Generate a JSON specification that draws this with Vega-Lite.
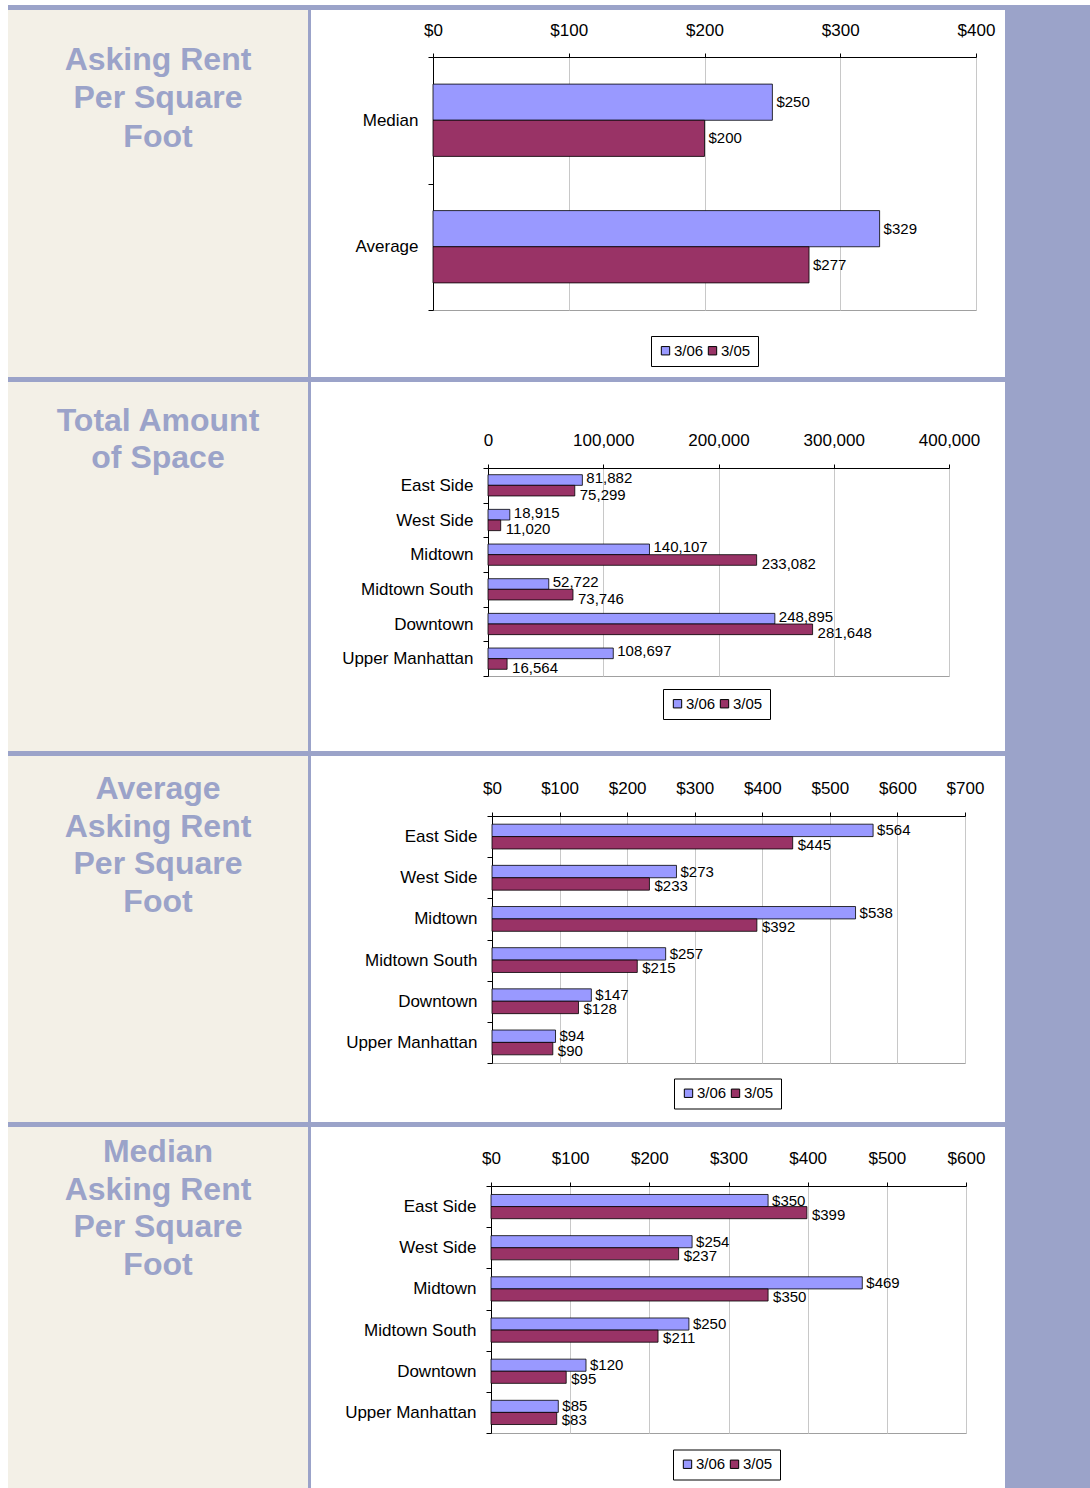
{
  "$schema": "https://vega.github.io/schema/vega-lite/v6.json",
  "background": "white",
  "padding": {"left": 8, "top": 5, "right": 0, "bottom": 0},
  "spacing": 0,
  "resolve": {"scale": {"color": "independent", "yOffset": "independent", "y": "independent"}, "legend": {"color": "independent"}},
  "config": {
    "font": "Liberation Sans",
    "axis": {"labelColor": "#000", "domainColor": "#000", "tickColor": "#000", "labelFontSize": 17, "labelFont": "Liberation Sans", "domainWidth": 1, "tickWidth": 1},
    "axisX": {"gridColor": "#c8c8c8", "labelFlush": false, "labelOverlap": false, "tickSize": 4},
    "axisY": {"grid": false, "tickSize": 5, "labelPadding": 10},
    "legend": {"labelFont": "Liberation Sans", "orient": "none", "direction": "horizontal", "title": null, "strokeColor": "#000", "fillColor": "#fff", "padding": 7, "labelFontSize": 15, "symbolType": "square", "symbolSize": 70, "symbolStrokeColor": "#000", "symbolStrokeWidth": 1, "columnPadding": 1, "labelOffset": 1},
    "text": {"font": "Liberation Sans"}
  },
  "hconcat": [
    {
      "spacing": 0,
      "resolve": {"scale": {"color": "independent", "yOffset": "independent", "y": "independent"}, "legend": {"color": "independent"}},
      "vconcat": [
        {"width": 997, "height": 5, "data": {"values": []}, "mark": "point", "view": {"fill": "#9ba3c9", "stroke": null}},
        {
          "spacing": 0,
          "resolve": {"scale": {"color": "independent", "yOffset": "independent", "y": "independent"}, "legend": {"color": "independent"}},
          "hconcat": [
            {"width": 300, "height": 367, "view": {"fill": "#f3f0e7", "stroke": null},
             "data": {"values": [{"line": 1, "label": "Asking Rent"}, {"line": 2, "label": "Per Square"}, {"line": 3, "label": "Foot"}]},
             "mark": {"type": "text", "align": "center", "baseline": "alphabetic", "fontSize": 32, "fontWeight": "bold", "color": "#9ba3c9"},
             "encoding": {"y": {"field": "line", "type": "quantitative", "scale": {"domain": [-0.567, 9.015], "reverse": true, "nice": false, "zero": false}, "axis": null},
                          "text": {"field": "label"}}},
            {"width": 3, "height": 367, "data": {"values": []}, "mark": "point", "view": {"fill": "#9ba3c9", "stroke": null}},
            {
              "spacing": 0,
              "resolve": {"scale": {"color": "independent", "yOffset": "independent", "y": "independent"}, "legend": {"color": "independent"}},
              "vconcat": [
                {"width": 1, "height": 1, "data": {"values": []}, "mark": "point", "view": {"stroke": null}},
                {
                  "width": 543, "height": 253,
                  "view": {"stroke": "#a0a0a0"},
                  "data": {"values": [
                    {"cat": "Median", "period": "3/06", "value": 250},
                    {"cat": "Median", "period": "3/05", "value": 200},
                    {"cat": "Average", "period": "3/06", "value": 329},
                    {"cat": "Average", "period": "3/05", "value": 277}
                  ]},
                  "encoding": {
                    "y": {"field": "cat", "type": "nominal", "sort": ["Median", "Average"], "title": null,
                          "scale": {"paddingInner": 0, "paddingOuter": 0},
                          "axis": {"orient": "left", "tickBand": "extent", "minExtent": 121, "maxExtent": 121}},
                    "yOffset": {"field": "period", "type": "nominal", "sort": ["3/06", "3/05"], "scale": {"paddingInner": 0, "paddingOuter": 0.75}},
                    "x": {"field": "value", "type": "quantitative", "title": null, "scale": {"domain": [0, 400], "nice": false},
                          "axis": {"orient": "top", "values": [0, 100, 200, 300, 400], "format": "$,.0f", "minExtent": 45, "maxExtent": 45, "labelPadding": 14}}
                  },
                  "layer": [
                    {"mark": {"type": "bar", "stroke": "#000", "strokeWidth": 0.8},
                     "encoding": {"color": {"field": "period", "type": "nominal", "scale": {"domain": ["3/06", "3/05"], "range": ["#9999ff", "#993366"]},
                       "legend": {"legendX": 218, "legendY": 279}}}},
                    {"mark": {"type": "text", "align": "left", "baseline": "middle", "dx": 4, "fontSize": 15, "color": "#000"},
                     "encoding": {"text": {"field": "value", "type": "quantitative", "format": "$,.0f"}}}
                  ]
                }
              ]
            }
          ]
        },
        {"width": 997, "height": 5, "data": {"values": []}, "mark": "point", "view": {"fill": "#9ba3c9", "stroke": null}},
        {
          "spacing": 0,
          "resolve": {"scale": {"color": "independent", "yOffset": "independent", "y": "independent"}, "legend": {"color": "independent"}},
          "hconcat": [
            {"width": 300, "height": 369, "view": {"fill": "#f3f0e7", "stroke": null},
             "data": {"values": [{"line": 1, "label": "Total Amount"}, {"line": 2, "label": "of Space"}]},
             "mark": {"type": "text", "align": "center", "baseline": "alphabetic", "fontSize": 32, "fontWeight": "bold", "color": "#9ba3c9"},
             "encoding": {"y": {"field": "line", "type": "quantitative", "scale": {"domain": [-0.295, 9.519], "reverse": true, "nice": false, "zero": false}, "axis": null},
                          "text": {"field": "label"}}},
            {"width": 3, "height": 369, "data": {"values": []}, "mark": "point", "view": {"fill": "#9ba3c9", "stroke": null}},
            {
              "spacing": 0,
              "resolve": {"scale": {"color": "independent", "yOffset": "independent", "y": "independent"}, "legend": {"color": "independent"}},
              "vconcat": [
                {"width": 1, "height": 1, "data": {"values": []}, "mark": "point", "view": {"stroke": null}},
                {
                  "width": 461, "height": 208,
                  "view": {"stroke": "#a0a0a0"},
                  "data": {"values": [
                    {"cat": "East Side", "period": "3/06", "value": 81882},
                    {"cat": "East Side", "period": "3/05", "value": 75299},
                    {"cat": "West Side", "period": "3/06", "value": 18915},
                    {"cat": "West Side", "period": "3/05", "value": 11020},
                    {"cat": "Midtown", "period": "3/06", "value": 140107},
                    {"cat": "Midtown", "period": "3/05", "value": 233082},
                    {"cat": "Midtown South", "period": "3/06", "value": 52722},
                    {"cat": "Midtown South", "period": "3/05", "value": 73746},
                    {"cat": "Downtown", "period": "3/06", "value": 248895},
                    {"cat": "Downtown", "period": "3/05", "value": 281648},
                    {"cat": "Upper Manhattan", "period": "3/06", "value": 108697},
                    {"cat": "Upper Manhattan", "period": "3/05", "value": 16564}
                  ]},
                  "encoding": {
                    "y": {"field": "cat", "type": "nominal", "sort": ["East Side", "West Side", "Midtown", "Midtown South", "Downtown", "Upper Manhattan"], "title": null,
                          "scale": {"paddingInner": 0, "paddingOuter": 0},
                          "axis": {"orient": "left", "tickBand": "extent", "minExtent": 176, "maxExtent": 176}},
                    "yOffset": {"field": "period", "type": "nominal", "sort": ["3/06", "3/05"], "scale": {"paddingInner": 0, "paddingOuter": 0.63}},
                    "x": {"field": "value", "type": "quantitative", "title": null, "scale": {"domain": [0, 400000], "nice": false},
                          "axis": {"orient": "top", "values": [0, 100000, 200000, 300000, 400000], "format": ",.0f", "minExtent": 84, "maxExtent": 84, "labelPadding": 15}}
                  },
                  "layer": [
                    {"mark": {"type": "bar", "stroke": "#000", "strokeWidth": 0.8},
                     "encoding": {"color": {"field": "period", "type": "nominal", "scale": {"domain": ["3/06", "3/05"], "range": ["#9999ff", "#993366"]},
                       "legend": {"legendX": 175, "legendY": 221}}}},
                    {"transform": [{"filter": "datum.period === '3/06'"}],
                     "mark": {"type": "text", "align": "left", "baseline": "middle", "dx": 4, "dy": -2, "fontSize": 15, "color": "#000"},
                     "encoding": {"text": {"field": "value", "type": "quantitative", "format": ",.0f"}}},
                    {"transform": [{"filter": "datum.period === '3/05'"}],
                     "mark": {"type": "text", "align": "left", "baseline": "middle", "dx": 5, "dy": 4, "fontSize": 15, "color": "#000"},
                     "encoding": {"text": {"field": "value", "type": "quantitative", "format": ",.0f"}}}
                  ]
                }
              ]
            }
          ]
        },
        {"width": 997, "height": 5, "data": {"values": []}, "mark": "point", "view": {"fill": "#9ba3c9", "stroke": null}},
        {
          "spacing": 0,
          "resolve": {"scale": {"color": "independent", "yOffset": "independent", "y": "independent"}, "legend": {"color": "independent"}},
          "hconcat": [
            {"width": 300, "height": 366, "view": {"fill": "#f3f0e7", "stroke": null},
             "data": {"values": [{"line": 1, "label": "Average"}, {"line": 2, "label": "Asking Rent"}, {"line": 3, "label": "Per Square"}, {"line": 4, "label": "Foot"}]},
             "mark": {"type": "text", "align": "center", "baseline": "alphabetic", "fontSize": 32, "fontWeight": "bold", "color": "#9ba3c9"},
             "encoding": {"y": {"field": "line", "type": "quantitative", "scale": {"domain": [-0.155, 9.605], "reverse": true, "nice": false, "zero": false}, "axis": null},
                          "text": {"field": "label"}}},
            {"width": 3, "height": 366, "data": {"values": []}, "mark": "point", "view": {"fill": "#9ba3c9", "stroke": null}},
            {
              "spacing": 0,
              "resolve": {"scale": {"color": "independent", "yOffset": "independent", "y": "independent"}, "legend": {"color": "independent"}},
              "vconcat": [
                {"width": 1, "height": 1, "data": {"values": []}, "mark": "point", "view": {"stroke": null}},
                {
                  "width": 473, "height": 247,
                  "view": {"stroke": "#a0a0a0"},
                  "data": {"values": [
                    {"cat": "East Side", "period": "3/06", "value": 564},
                    {"cat": "East Side", "period": "3/05", "value": 445},
                    {"cat": "West Side", "period": "3/06", "value": 273},
                    {"cat": "West Side", "period": "3/05", "value": 233},
                    {"cat": "Midtown", "period": "3/06", "value": 538},
                    {"cat": "Midtown", "period": "3/05", "value": 392},
                    {"cat": "Midtown South", "period": "3/06", "value": 257},
                    {"cat": "Midtown South", "period": "3/05", "value": 215},
                    {"cat": "Downtown", "period": "3/06", "value": 147},
                    {"cat": "Downtown", "period": "3/05", "value": 128},
                    {"cat": "Upper Manhattan", "period": "3/06", "value": 94},
                    {"cat": "Upper Manhattan", "period": "3/05", "value": 90}
                  ]},
                  "encoding": {
                    "y": {"field": "cat", "type": "nominal", "sort": ["East Side", "West Side", "Midtown", "Midtown South", "Downtown", "Upper Manhattan"], "title": null,
                          "scale": {"paddingInner": 0, "paddingOuter": 0},
                          "axis": {"orient": "left", "tickBand": "extent", "minExtent": 180, "maxExtent": 180}},
                    "yOffset": {"field": "period", "type": "nominal", "sort": ["3/06", "3/05"], "scale": {"paddingInner": 0, "paddingOuter": 0.66}},
                    "x": {"field": "value", "type": "quantitative", "title": null, "scale": {"domain": [0, 700], "nice": false},
                          "axis": {"orient": "top", "values": [0, 100, 200, 300, 400, 500, 600, 700], "format": "$,.0f", "minExtent": 58.5, "maxExtent": 58.5, "labelPadding": 15}}
                  },
                  "layer": [
                    {"mark": {"type": "bar", "stroke": "#000", "strokeWidth": 0.8},
                     "encoding": {"color": {"field": "period", "type": "nominal", "scale": {"domain": ["3/06", "3/05"], "range": ["#9999ff", "#993366"]},
                       "legend": {"legendX": 182, "legendY": 262.5}}}},
                    {"transform": [{"filter": "datum.period === '3/06'"}],
                     "mark": {"type": "text", "align": "left", "baseline": "middle", "dx": 4, "fontSize": 15, "color": "#000"},
                     "encoding": {"text": {"field": "value", "type": "quantitative", "format": "$,.0f"}}},
                    {"transform": [{"filter": "datum.period === '3/05'"}],
                     "mark": {"type": "text", "align": "left", "baseline": "middle", "dx": 5, "dy": 2, "fontSize": 15, "color": "#000"},
                     "encoding": {"text": {"field": "value", "type": "quantitative", "format": "$,.0f"}}}
                  ]
                }
              ]
            }
          ]
        },
        {"width": 997, "height": 5, "data": {"values": []}, "mark": "point", "view": {"fill": "#9ba3c9", "stroke": null}},
        {
          "spacing": 0,
          "resolve": {"scale": {"color": "independent", "yOffset": "independent", "y": "independent"}, "legend": {"color": "independent"}},
          "hconcat": [
            {"width": 300, "height": 361, "view": {"fill": "#f3f0e7", "stroke": null},
             "data": {"values": [{"line": 1, "label": "Median"}, {"line": 2, "label": "Asking Rent"}, {"line": 3, "label": "Per Square"}, {"line": 4, "label": "Foot"}]},
             "mark": {"type": "text", "align": "center", "baseline": "alphabetic", "fontSize": 32, "fontWeight": "bold", "color": "#9ba3c9"},
             "encoding": {"y": {"field": "line", "type": "quantitative", "scale": {"domain": [0.082, 9.632], "reverse": true, "nice": false, "zero": false}, "axis": null},
                          "text": {"field": "label"}}},
            {"width": 3, "height": 361, "data": {"values": []}, "mark": "point", "view": {"fill": "#9ba3c9", "stroke": null}},
            {
              "spacing": 0,
              "resolve": {"scale": {"color": "independent", "yOffset": "independent", "y": "independent"}, "legend": {"color": "independent"}},
              "vconcat": [
                {"width": 1, "height": 1, "data": {"values": []}, "mark": "point", "view": {"stroke": null}},
                {
                  "width": 475, "height": 247,
                  "view": {"stroke": "#a0a0a0"},
                  "data": {"values": [
                    {"cat": "East Side", "period": "3/06", "value": 350},
                    {"cat": "East Side", "period": "3/05", "value": 399},
                    {"cat": "West Side", "period": "3/06", "value": 254},
                    {"cat": "West Side", "period": "3/05", "value": 237},
                    {"cat": "Midtown", "period": "3/06", "value": 469},
                    {"cat": "Midtown", "period": "3/05", "value": 350},
                    {"cat": "Midtown South", "period": "3/06", "value": 250},
                    {"cat": "Midtown South", "period": "3/05", "value": 211},
                    {"cat": "Downtown", "period": "3/06", "value": 120},
                    {"cat": "Downtown", "period": "3/05", "value": 95},
                    {"cat": "Upper Manhattan", "period": "3/06", "value": 85},
                    {"cat": "Upper Manhattan", "period": "3/05", "value": 83}
                  ]},
                  "encoding": {
                    "y": {"field": "cat", "type": "nominal", "sort": ["East Side", "West Side", "Midtown", "Midtown South", "Downtown", "Upper Manhattan"], "title": null,
                          "scale": {"paddingInner": 0, "paddingOuter": 0},
                          "axis": {"orient": "left", "tickBand": "extent", "minExtent": 179, "maxExtent": 179}},
                    "yOffset": {"field": "period", "type": "nominal", "sort": ["3/06", "3/05"], "scale": {"paddingInner": 0, "paddingOuter": 0.7}},
                    "x": {"field": "value", "type": "quantitative", "title": null, "scale": {"domain": [0, 600], "nice": false},
                          "axis": {"orient": "top", "values": [0, 100, 200, 300, 400, 500, 600], "format": "$,.0f", "minExtent": 57.5, "maxExtent": 57.5, "labelPadding": 15}}
                  },
                  "layer": [
                    {"mark": {"type": "bar", "stroke": "#000", "strokeWidth": 0.8},
                     "encoding": {"color": {"field": "period", "type": "nominal", "scale": {"domain": ["3/06", "3/05"], "range": ["#9999ff", "#993366"]},
                       "legend": {"legendX": 182, "legendY": 263.5}}}},
                    {"transform": [{"filter": "datum.period === '3/06'"}],
                     "mark": {"type": "text", "align": "left", "baseline": "middle", "dx": 4, "fontSize": 15, "color": "#000"},
                     "encoding": {"text": {"field": "value", "type": "quantitative", "format": "$,.0f"}}},
                    {"transform": [{"filter": "datum.period === '3/05'"}],
                     "mark": {"type": "text", "align": "left", "baseline": "middle", "dx": 5, "dy": 2, "fontSize": 15, "color": "#000"},
                     "encoding": {"text": {"field": "value", "type": "quantitative", "format": "$,.0f"}}}
                  ]
                }
              ]
            }
          ]
        }
      ]
    },
    {"width": 85, "height": 1483, "data": {"values": []}, "mark": "point", "view": {"fill": "#9ba3c9", "stroke": null}}
  ]
}
